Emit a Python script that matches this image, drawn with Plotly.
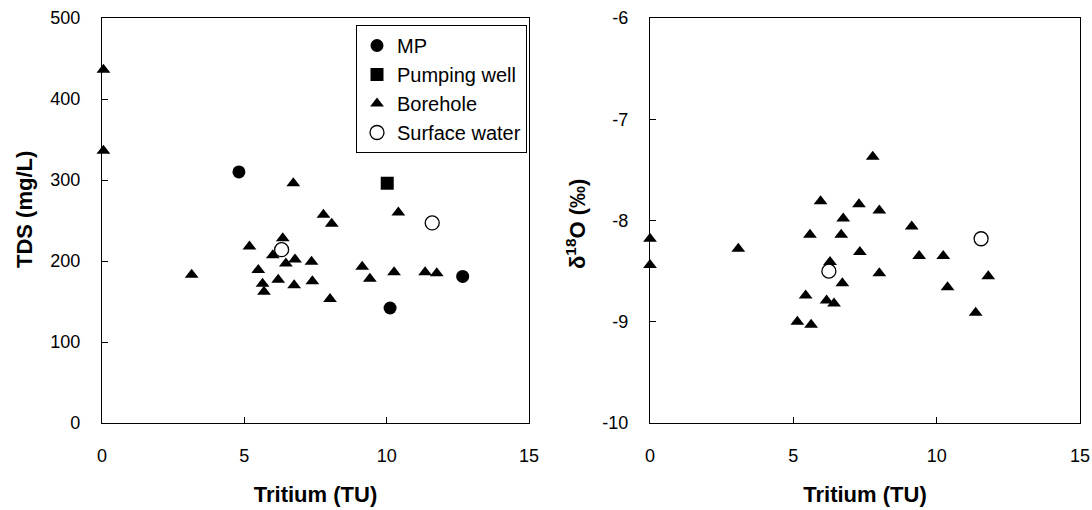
import plotly.graph_objects as go

# ---- Left panel: Tritium vs TDS ----
mp_tritium = [4.81, 10.12, 12.67]
mp_tds = [310, 142, 181]

pw_tritium = [10.02]
pw_tds = [296]

bh_tritium = [0.05, 0.05, 3.15, 5.18, 5.49, 5.64, 5.69, 6.00, 6.35, 6.19, 6.46, 6.78, 6.72,
              6.75, 7.36, 7.39, 7.78, 8.07, 8.01, 9.14, 9.41, 10.26, 10.41, 11.35, 11.76]
bh_tds = [436, 336, 183, 218, 189, 172, 162, 207, 228, 177, 197, 202, 296,
          170, 199, 175, 257, 246, 153, 193, 178, 186, 260, 186, 185]

sw_tritium = [6.31, 11.60]
sw_tds = [214, 247]

# ---- Right panel: Tritium vs delta18O ----
bh2_tritium = [0.0, 0.0, 3.08, 5.95, 5.58, 5.14, 5.62, 5.43, 6.28, 6.16, 6.42, 6.74, 6.67,
               6.71, 7.29, 7.32, 7.77, 8.00, 8.00, 9.13, 9.39, 10.23, 10.38, 11.36, 11.80]
bh2_d18o = [-8.18, -8.44, -8.28, -7.81, -8.14, -9.00, -9.03, -8.74, -8.41, -8.79, -8.82, -7.98, -8.14,
            -8.62, -7.84, -8.31, -7.37, -7.90, -8.52, -8.06, -8.35, -8.35, -8.66, -8.91, -8.55]

sw2_tritium = [6.24, 11.55]
sw2_d18o = [-8.50, -8.18]

x_ticks = [0, 5, 10, 15]
tds_ticks = [0, 100, 200, 300, 400, 500]
d18o_ticks = [-10, -9, -8, -7, -6]
d18o_ticktext = ["-10", "-9", "-8", "-7", "-6"]

FONT = "Arial, Liberation Sans, sans-serif"
BLACK = "#000000"

fig = go.Figure()

fig.add_trace(go.Scatter(x=mp_tritium, y=mp_tds, mode="markers", name="MP",
                         marker=dict(symbol="circle", size=13, color=BLACK),
                         xaxis="x", yaxis="y", cliponaxis=False))
fig.add_trace(go.Scatter(x=pw_tritium, y=pw_tds, mode="markers", name="Pumping well",
                         marker=dict(symbol="square", size=13, color=BLACK),
                         xaxis="x", yaxis="y", cliponaxis=False))
fig.add_trace(go.Scatter(x=bh_tritium, y=bh_tds, mode="markers", name="Borehole",
                         marker=dict(symbol="triangle-up", size=12, color=BLACK),
                         xaxis="x", yaxis="y", cliponaxis=False))
fig.add_trace(go.Scatter(x=sw_tritium, y=sw_tds, mode="markers", name="Surface water",
                         marker=dict(symbol="circle", size=14, color="white",
                                     line=dict(color=BLACK, width=1.3)),
                         xaxis="x", yaxis="y", cliponaxis=False))

fig.add_trace(go.Scatter(x=bh2_tritium, y=bh2_d18o, mode="markers", name="Borehole",
                         marker=dict(symbol="triangle-up", size=12, color=BLACK),
                         xaxis="x2", yaxis="y2", showlegend=False, cliponaxis=False))
fig.add_trace(go.Scatter(x=sw2_tritium, y=sw2_d18o, mode="markers", name="Surface water",
                         marker=dict(symbol="circle", size=14, color="white",
                                     line=dict(color=BLACK, width=1.3)),
                         xaxis="x2", yaxis="y2", showlegend=False, cliponaxis=False))

W, H = 1092, 510
ml, mr, mt, mb = 102, 12, 18, 87
pw = W - ml - mr
ph = H - mt - mb
left_dom = [0, (529 - ml) / pw]
right_dom = [(650 - ml) / pw, 1]

axis_common = dict(showline=True, linecolor=BLACK, linewidth=1.2, mirror=True,
                   ticks="inside", ticklen=6, tickcolor=BLACK, tickwidth=1.2,
                   showgrid=False, zeroline=False, automargin=False,
                   tickfont=dict(family=FONT, size=18, color=BLACK))

title_font = dict(family=FONT, size=22, color=BLACK)

fig.update_layout(
    width=W, height=H,
    margin=dict(l=ml, r=mr, t=mt, b=mb),
    paper_bgcolor="white", plot_bgcolor="white",
    font=dict(family=FONT, color=BLACK),
    xaxis=dict(domain=left_dom, range=[0, 15], tickvals=x_ticks, anchor="y",
               ticklabelstandoff=16,
               title=dict(text="<b>Tritium (TU)</b>", font=title_font, standoff=21),
               **axis_common),
    yaxis=dict(domain=[0, 1], range=[0, 500], tickvals=tds_ticks, anchor="x",
               ticklabelstandoff=17, **axis_common),
    xaxis2=dict(domain=right_dom, range=[0, 15], tickvals=x_ticks, anchor="y2",
                ticklabelstandoff=16,
                title=dict(text="<b>Tritium (TU)</b>", font=title_font, standoff=21),
                **axis_common),
    yaxis2=dict(domain=[0, 1], range=[-10, -6], tickvals=d18o_ticks,
                ticktext=d18o_ticktext, anchor="x2",
                ticklabelstandoff=17, **axis_common),
    legend=dict(x=(527 - ml) / pw, y=(423 - 25) / ph,
                xanchor="right", yanchor="top",
                bgcolor="white", bordercolor=BLACK, borderwidth=1,
                font=dict(family=FONT, size=20, color=BLACK),
                itemwidth=30, tracegroupgap=0),
    showlegend=True,
    annotations=[
        dict(text="<b>TDS (mg/L)</b>", textangle=-90, showarrow=False,
             xref="paper", yref="paper",
             x=(24 - ml) / pw, y=(423 - 210) / ph,
             xanchor="center", yanchor="middle", font=title_font),
        dict(text="<b>δ<sup>18</sup>O (‰)</b>", textangle=-90, showarrow=False,
             xref="paper", yref="paper",
             x=(576 - ml) / pw, y=(423 - 224) / ph,
             xanchor="center", yanchor="middle", font=title_font),
    ],
)

fig.write_html("out.html")
